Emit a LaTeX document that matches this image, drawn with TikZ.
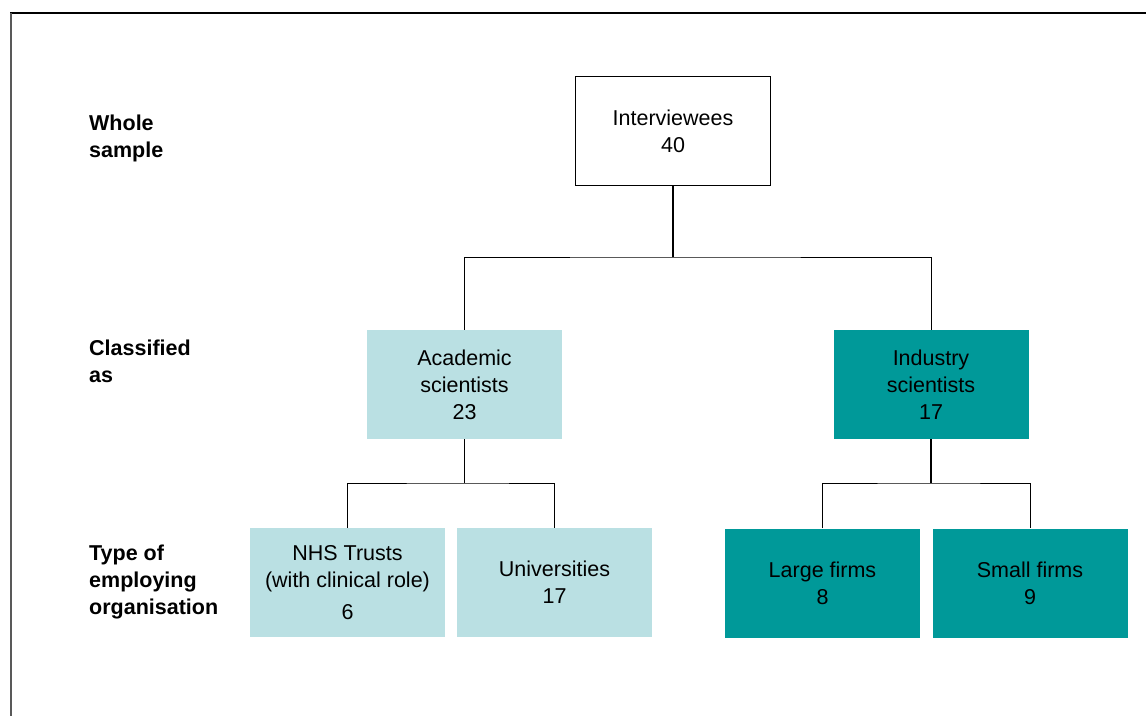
\documentclass[tikz,border=0pt]{standalone}
\usepackage{fontspec}
\setmainfont{Liberation Sans}
\definecolor{acadfill}{HTML}{BAE0E3}
\definecolor{indfill}{HTML}{009999}
\begin{document}
\begin{tikzpicture}[x=1pt,y=-1pt,
  every node/.style={font=\fontsize{21.5}{27}\selectfont, align=center, inner sep=0pt},
  box/.style={minimum width=195pt, minimum height=109pt},
  topbox/.style={box, draw=black, line width=1pt, fill=white},
  acad/.style={box, fill=acadfill},
  ind/.style={box, fill=indfill},
  level/.style={anchor=west, align=left, font=\fontsize{21.5}{27}\selectfont\bfseries},
  link/.style={line width=1pt, draw=black},
  stem/.style={line width=1.8pt, draw=black}]
\useasboundingbox (0,0) rectangle (1146,715);
% frame
\draw[line width=2pt, black] (10,13) -- (1150,13);
\draw[line width=2pt, gray!70!black] (11,13) -- (11,720);

% level labels
\node[level] (l1) at (89,138) {Whole\\sample};
\node[level] (l2) at (89,361) {Classified\\as};
\node[level] (l3) at (89,582) {Type of\\employing\\organisation};

% boxes
\node[topbox] (top) at (673,131) {Interviewees\\40};
\node[acad] (aca) at (464.5,384.5) {Academic\\scientists\\23};
\node[ind]  (ins) at (931,384.5) {Industry\\scientists\\17};
\node[acad] (nhs) at (347.5,582.5) {NHS Trusts\\(with clinical role)\\[5pt]6};
\node[acad] (uni) at (554.5,582.5) {Universities\\17};
\node[ind]  (lrg) at (822.5,583) {Large firms\\8};
\node[ind]  (sml) at (1030,583) {Small firms\\9};

% junctions
\coordinate (j1) at (673,257);
\coordinate (j2) at (464.5,483);
\coordinate (j3) at (931,483);

% connectors
\draw[stem] (top.south) -- (j1);
\draw[link] (aca.north) |- (j1) -| (ins.north);
\draw[link] (aca.south) -- (j2);
\draw[link] (nhs.north) |- (j2) -| (uni.north);
\draw[stem] (ins.south) -- (j3);
\draw[link] (lrg.north) |- (j3) -| (sml.north);
\end{tikzpicture}
\end{document}
